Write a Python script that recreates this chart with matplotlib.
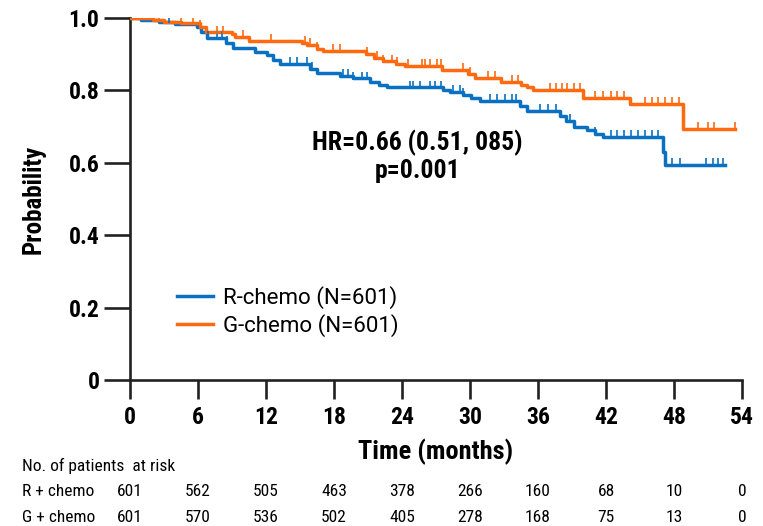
import matplotlib
matplotlib.use("Agg")
import matplotlib.pyplot as plt
import matplotlib.transforms as mtransforms
import numpy as np

# step curves (time in months, survival probability)
r_times = [0, 1.0, 2.6, 4.0, 5.9, 6.3, 6.8, 8.5, 9.1, 11.0, 12.1, 12.6, 13.2, 15.9, 16.5,
           18.5, 19.7, 21.2, 22.0, 22.7, 27.6, 28.2, 29.4, 30.1, 30.9, 34.4, 35.0, 37.9,
           38.5, 39.2, 40.3, 41.0, 41.7, 47.0, 47.2, 52.5]
r_surv = [1.0, 0.995, 0.99, 0.983, 0.975, 0.96, 0.945, 0.93, 0.917, 0.905, 0.897, 0.885,
          0.872, 0.858, 0.848, 0.84, 0.833, 0.823, 0.815, 0.808, 0.80, 0.795, 0.787, 0.78,
          0.77, 0.758, 0.742, 0.73, 0.715, 0.70, 0.69, 0.68, 0.671, 0.63, 0.594, 0.594]

g_times = [0, 2.0, 3.0, 4.5, 6.2, 6.7, 9.0, 9.3, 10.5, 15.2, 15.6, 16.5, 17.0, 20.8, 21.5,
           22.3, 23.5, 24.3, 27.5, 29.8, 30.4, 32.7, 34.5, 35.0, 35.6, 40.0, 44.1, 48.8, 53.4]
g_surv = [1.0, 0.995, 0.99, 0.986, 0.975, 0.96, 0.955, 0.947, 0.936, 0.93, 0.925, 0.915,
          0.91, 0.90, 0.89, 0.88, 0.873, 0.867, 0.856, 0.845, 0.834, 0.823, 0.815, 0.81,
          0.80, 0.779, 0.762, 0.693, 0.693]

# censoring marks
r_cens = [3.4, 6.9, 7.7, 8.1, 8.6, 14.1, 14.7, 15.6, 16.1, 18.8, 19.2, 19.7, 20.5, 20.9,
          24.7, 25.0, 25.6, 26.5, 26.9, 27.4, 28.5, 29.1, 29.4, 31.8, 32.4, 33.1, 33.7, 34.1,
          36.2, 36.9, 37.6, 38.8, 41.0, 42.4, 43.0, 43.6, 44.2, 44.8, 45.4, 46.1, 46.6,
          47.8, 48.5, 50.8, 51.4, 51.9, 52.3]
g_cens = [2.0, 2.6, 4.5, 5.6, 6.2, 7.7, 8.2, 10.0, 12.4, 15.4, 15.9, 16.5, 17.9, 18.5,
          20.9, 21.8, 22.3, 23.1, 23.6, 24.5, 25.8, 26.0, 26.5, 27.1, 27.4, 29.4, 30.0, 31.6,
          32.2, 33.7, 34.2, 37.1, 37.6, 38.1, 38.6, 39.2, 39.7, 41.0, 41.7, 42.4, 43.0, 43.6,
          45.4, 46.1, 46.6, 47.2, 47.8, 48.4, 50.1, 51.0, 51.5, 53.4]

x_ticks = [0, 6, 12, 18, 24, 30, 36, 42, 48, 54]
y_ticks = [0, 0.2, 0.4, 0.6, 0.8, 1.0]
y_ticklabels = ["0", "0.2", "0.4", "0.6", "0.8", "1.0"]
r_risk = [601, 562, 505, 463, 378, 266, 160, 68, 10, 0]
g_risk = [601, 570, 536, 502, 405, 278, 168, 75, 13, 0]

blue = "#0a71c2"
orange = "#ff6a10"
bold_fam = ["Roboto Condensed", "Liberation Sans Narrow", "Roboto", "DejaVu Sans"]
narrow_fam = ["Liberation Sans Narrow", "Roboto Condensed", "Roboto", "DejaVu Sans"]

fig = plt.figure(figsize=(7.63, 5.26), dpi=100)
ax = fig.add_axes([0.1704, 0.2776, 0.8021, 0.6882])


def surv_at(times, surv, t):
    idx = np.searchsorted(times, t, side="right") - 1
    return np.array(surv)[idx]


ax.step(r_times, r_surv, where="post", color=blue, lw=2.5, label="R-chemo (N=601)", zorder=3)
ax.step(g_times, g_surv, where="post", color=orange, lw=2.5, label="G-chemo (N=601)", zorder=3)
ax.plot(r_cens, surv_at(r_times, r_surv, r_cens) + 0.008, ls="none", marker="|",
        ms=6, mew=1.2, color=blue, zorder=3)
ax.plot(g_cens, surv_at(g_times, g_surv, g_cens) + 0.008, ls="none", marker="|",
        ms=6, mew=1.2, color=orange, zorder=3)

ax.set_xlim(0, 54)
ax.set_ylim(0, 1.0)
ax.spines["top"].set_visible(False)
ax.spines["right"].set_visible(False)
for s in ["left", "bottom"]:
    ax.spines[s].set_linewidth(1.9)
    ax.spines[s].set_color("#222222")
    ax.spines[s].set_clip_on(False)
ax.set_xticks(x_ticks)
ax.set_xticklabels([str(t) for t in x_ticks], fontfamily=bold_fam, fontweight="bold", fontsize=17)
ax.set_yticks(y_ticks)
ax.set_yticklabels(y_ticklabels, fontfamily=bold_fam, fontweight="bold", fontsize=17)
ax.tick_params(axis="y", length=19, width=1.9, color="#222222", pad=3)
ax.tick_params(axis="x", length=14, width=1.9, color="#222222", pad=5)

ax.text(-0.158, 0.5, "Probability", transform=ax.transAxes, rotation=90, ha="center",
        va="center", fontfamily=bold_fam, fontweight="bold", fontsize=18)
ax.text(0.5, -0.199, "Time (months)", transform=ax.transAxes, ha="center", va="center",
        fontfamily=bold_fam, fontweight="bold", fontsize=19)

ax.text(0.47, 0.617, "HR=0.66 (0.51, 085)\np=0.001", transform=ax.transAxes, ha="center",
        va="center", fontfamily=bold_fam, fontweight="bold", fontsize=18.5, linespacing=1.15)

leg = ax.legend(loc="center left", bbox_to_anchor=(0.077, 0.189), frameon=False,
                borderpad=0, borderaxespad=0, handlelength=1.6, handletextpad=0.45,
                labelspacing=0.2, prop={"family": ["Roboto", "DejaVu Sans"], "size": 16})
for line in leg.get_lines():
    line.set_linewidth(2.5)

# number at risk table
tr = mtransforms.blended_transform_factory(ax.transData, fig.transFigure)
fig.text(22 / 763, 1 - 466 / 526, "No. of patients  at risk", ha="left", va="center",
         fontfamily=narrow_fam, fontsize=12.5)
fig.text(22 / 763, 1 - 492 / 526, "R + chemo", ha="left", va="center",
         fontfamily=narrow_fam, fontsize=12.5)
fig.text(22 / 763, 1 - 517 / 526, "G + chemo", ha="left", va="center",
         fontfamily=narrow_fam, fontsize=12.5)
for t, rv, gv in zip(x_ticks, r_risk, g_risk):
    ax.text(t, 1 - 492 / 526, str(rv), transform=tr, ha="center", va="center",
            fontfamily=narrow_fam, fontsize=12.5, clip_on=False)
    ax.text(t, 1 - 517 / 526, str(gv), transform=tr, ha="center", va="center",
            fontfamily=narrow_fam, fontsize=12.5, clip_on=False)

fig.savefig("out.png", dpi=100)
